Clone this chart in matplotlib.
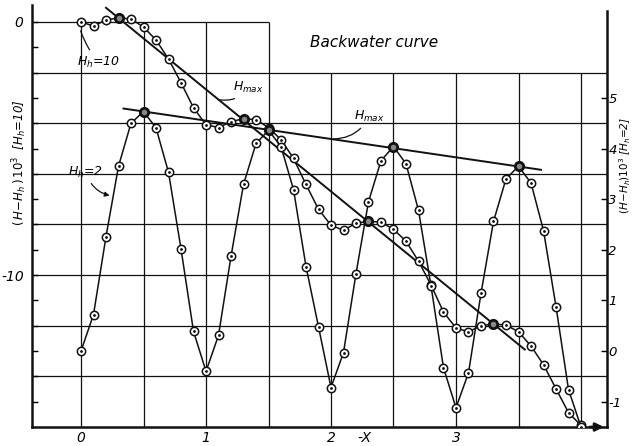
import numpy as np
import matplotlib
matplotlib.use("Agg")
import matplotlib.pyplot as plt

# ---------------------------------------------------------------
# data
# ---------------------------------------------------------------
x_pts = [0.0, 0.1, 0.2, 0.3, 0.4, 0.5, 0.6, 0.7, 0.8, 0.9,
         1.0, 1.1, 1.2, 1.3, 1.4, 1.5, 1.6, 1.7, 1.8, 1.9,
         2.0, 2.1, 2.2, 2.3, 2.4, 2.5, 2.6, 2.7, 2.8, 2.9,
         3.0, 3.1, 3.2, 3.3, 3.4, 3.5, 3.6, 3.7, 3.8, 3.9, 4.0]

# (H-Hh)10^3 for Hh=10, left axis
h10 = [0.0, -0.16, 0.08, 0.16, 0.12, -0.2, -0.71, -1.46, -2.4, -3.39,
       -4.06, -4.17, -3.94, -3.82, -3.86, -4.17, -4.65, -5.39, -6.42, -7.4,
       -8.03, -8.23, -7.95, -7.87, -7.91, -8.19, -8.66, -9.45, -10.39, -11.46,
       -12.09, -12.24, -12.0, -11.93, -11.97, -12.24, -12.8, -13.54, -14.49, -15.43, -15.94]

# (H-Hh)10^3 for Hh=2, right axis
h2 = [0.0, 0.72, 2.26, 3.65, 4.5, 4.73, 4.41, 3.53, 2.02, 0.39,
      -0.4, 0.31, 1.87, 3.29, 4.1, 4.36, 4.04, 3.19, 1.67, 0.48,
      -0.72, -0.03, 1.53, 2.95, 3.76, 4.04, 3.7, 2.78, 1.29, -0.33,
      -1.12, -0.43, 1.14, 2.56, 3.4, 3.65, 3.32, 2.38, 0.88, -0.76, -1.5]

peaks10_x = [0.3, 1.3, 2.3, 3.3]
peaks2_x = [0.5, 1.5, 2.5, 3.5]

# envelope lines H_max
hmax10_x = [0.2, 3.55]
hmax10_y = [0.56, -12.94]
hmax2_x = [0.34, 3.68]
hmax2_y = [4.79, 3.58]

xtick_vals = [0, 1, 2, 3]
left_tick_vals = [0, -10]
right_tick_vals = [-1, 0, 1, 2, 3, 4, 5]

grid_x = [0, 0.5, 1, 1.5, 2, 2.5, 3, 3.5, 4]
grid_y = [-2, -4, -6, -8, -10, -12, -14]

FONT = dict(family="DejaVu Sans", style="italic", color="black")
INK = "#111111"


def to_right(v):
    return (v + 13.0) / 2.0


def main():
    fig = plt.figure(figsize=(6.33, 4.46), dpi=100)
    ax = fig.add_axes([32/633, 19/446, 575/633, 422/446])
    ax.set_xlim(-0.392, 4.208)
    ax.set_ylim(-16, 0.67)

    ax2 = ax.twinx()
    ax2.set_ylim(to_right(-16), to_right(0.67))

    # grid
    ax.hlines(grid_y, -0.392, 4.208, color=INK, lw=0.9, zorder=1)
    ax.hlines([0], -0.392, 1.5, color=INK, lw=0.9, zorder=1)
    for gx in grid_x:
        top = 0 if gx <= 1.5 else -2
        ax.vlines(gx, -16, top, color=INK, lw=0.9, zorder=1)

    # curves
    ax.plot(x_pts, h10, color=INK, lw=1.1, marker="o", ms=6, mfc="white",
            mec=INK, mew=1.1, zorder=3)
    ax.plot(x_pts, h10, ls="none", marker=".", ms=2, color=INK, zorder=4)
    ax2.plot(x_pts, h2, color=INK, lw=1.1, marker="o", ms=6, mfc="white",
             mec=INK, mew=1.1, zorder=3)
    ax2.plot(x_pts, h2, ls="none", marker=".", ms=2, color=INK, zorder=4)

    p10 = [h10[x_pts.index(p)] for p in peaks10_x]
    p2 = [h2[x_pts.index(p)] for p in peaks2_x]
    ax.plot(peaks10_x, p10, ls="none", marker="o", ms=6, mfc="#888888",
            mec=INK, mew=2.0, zorder=5)
    ax2.plot(peaks2_x, p2, ls="none", marker="o", ms=6, mfc="#888888",
             mec=INK, mew=2.0, zorder=5)

    ax.plot(hmax10_x, hmax10_y, color=INK, lw=1.4, zorder=2)
    ax2.plot(hmax2_x, hmax2_y, color=INK, lw=1.4, zorder=2)

    # spines / ticks
    for s in ["top", "right"]:
        ax.spines[s].set_visible(False)
    ax2.spines["top"].set_visible(False)
    ax2.spines["left"].set_visible(False)
    ax2.spines["bottom"].set_visible(False)
    ax2.spines["right"].set_bounds(to_right(-16), 6.71)
    for sp in [ax.spines["left"], ax.spines["bottom"], ax2.spines["right"]]:
        sp.set_linewidth(1.8)
        sp.set_color(INK)

    ax.set_xticks(xtick_vals)
    ax.set_xticklabels([str(v) for v in xtick_vals], fontdict=FONT, fontsize=10)
    ax.tick_params(axis="x", length=0, pad=3)

    ax.set_yticks(left_tick_vals)
    ax.set_yticklabels(["0", "-10"], fontdict=FONT, fontsize=10)
    ax.set_yticks(np.arange(-15, 1, 1), minor=True)
    ax.tick_params(axis="y", which="both", direction="in", length=4, width=1, pad=6)

    ax2.set_yticks(right_tick_vals)
    ax2.set_yticklabels([str(v) for v in right_tick_vals], fontdict=FONT, fontsize=9.5)
    ax2.tick_params(axis="y", direction="in", length=4, width=1, pad=1)

    # axis labels
    fig.text(20/633, 1 - 163/446, r"$(\,H\!-\!H_h\,)\,10^3$  [$H_h$=10]",
             rotation=90, ha="center", va="center", fontsize=8.5, **FONT)
    fig.text(625/633, 1 - 165/446, r"$(H\!-\!H_h)10^3$ [$H_h$=2]",
             rotation=90, ha="center", va="center", fontsize=7.5, **FONT)
    ax.text(2.27, -16.42, "-X", ha="center", va="center", fontsize=10, **FONT)

    # bottom arrow
    ax.annotate("", xy=(4.205, -16), xytext=(4.05, -16),
                arrowprops=dict(arrowstyle="-|>", color=INK, lw=2,
                                mutation_scale=12),
                annotation_clip=False)

    # annotations
    ax.text(1.83, -0.8, "Backwater curve", ha="left", va="center",
            fontsize=11, **FONT)
    ax.annotate(r"$H_h$=10", xy=(-0.01, -0.25), xytext=(-0.03, -1.6),
                ha="left", va="center", fontsize=9, **FONT,
                arrowprops=dict(arrowstyle="-", color=INK, lw=0.9,
                                shrinkA=2, shrinkB=2,
                                connectionstyle="arc3,rad=-0.1"))
    ax.annotate(r"$H_{max}$", xy=(1.1, -3.07), xytext=(1.22, -2.6),
                ha="left", va="center", fontsize=9, **FONT,
                arrowprops=dict(arrowstyle="-", color=INK, lw=0.9,
                                shrinkA=1, shrinkB=0,
                                connectionstyle="arc3,rad=-0.3"))
    ax.annotate(r"$H_{max}$", xy=(2.02, -4.62), xytext=(2.18, -3.75),
                ha="left", va="center", fontsize=9, **FONT,
                arrowprops=dict(arrowstyle="-", color=INK, lw=0.9,
                                shrinkA=1, shrinkB=0,
                                connectionstyle="arc3,rad=-0.3"))
    ax.annotate(r"$H_h$=2", xy=(0.24, -6.87), xytext=(-0.1, -5.93),
                ha="left", va="center", fontsize=9, **FONT,
                arrowprops=dict(arrowstyle="-|>", color=INK, lw=0.9,
                                shrinkA=1, shrinkB=1, mutation_scale=7,
                                connectionstyle="arc3,rad=0.3"))

    fig.savefig("out.png", dpi=100, facecolor="white")


if __name__ == "__main__":
    main()
